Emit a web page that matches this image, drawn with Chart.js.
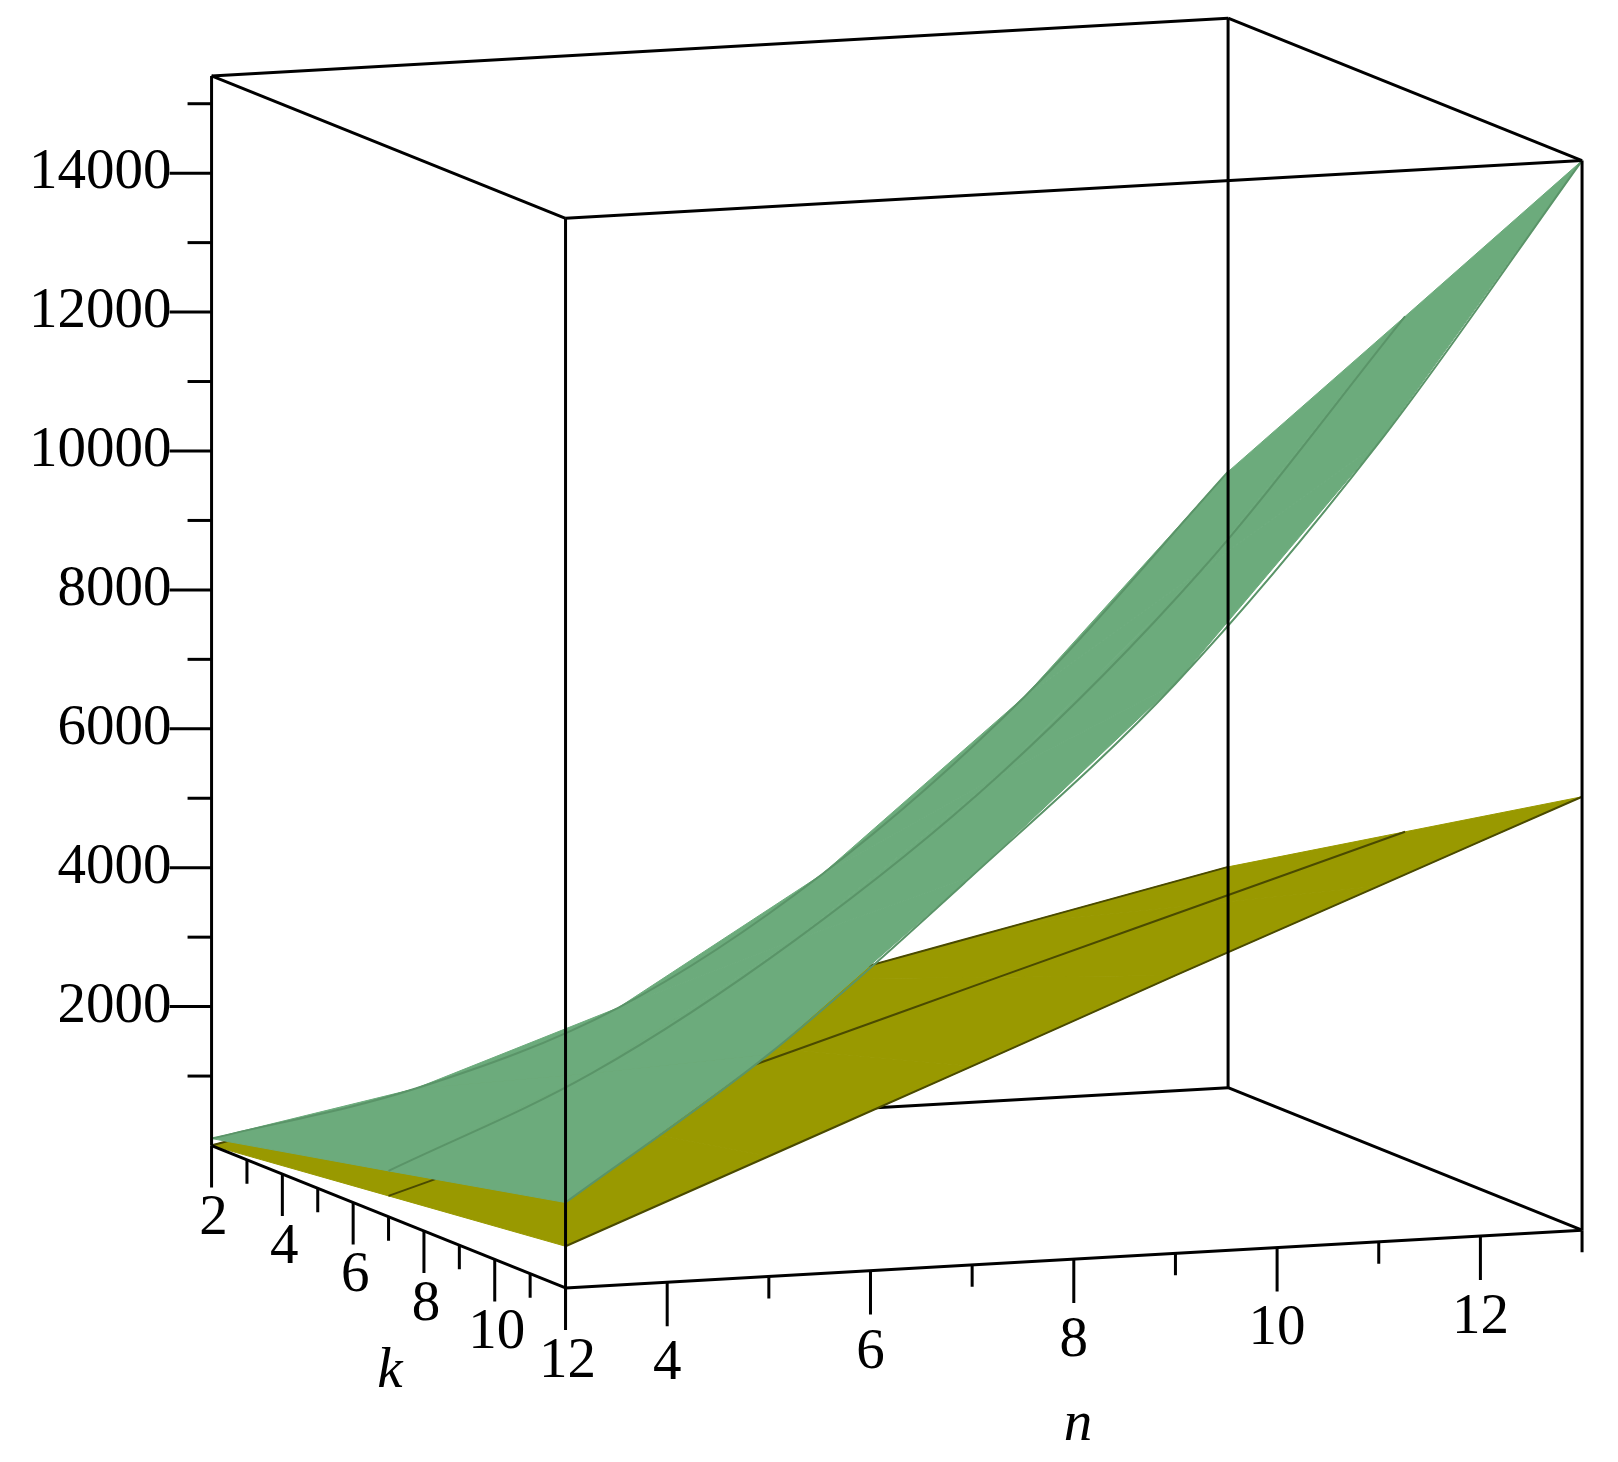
<!DOCTYPE html>
<html>
<head>
<meta charset="utf-8">
<script src="https://cdn.jsdelivr.net/npm/chart.js@4/dist/chart.umd.min.js"></script>
<style>
  body { margin: 0; background: #fff; }
  canvas { display: block; }
</style>
</head>
<body>
<canvas id="plot" width="1618" height="1462"></canvas>
<script>
// grid of the two surfaces
const nValues = [3, 5, 7, 9, 11, 13];
const kValues = [2, 7, 12];
const greenZ = [
  [100, 650, 1650, 3400, 5800, 8870],
  [660, 1900, 3650, 5850, 8650, 12130],
  [1230, 3200, 5600, 8200, 11500, 15400]
];
const yellowZ = [
  [0, 640, 1270, 1900, 2540, 3180],
  [300, 1185, 2065, 2950, 3830, 4710],
  [600, 1730, 2860, 4000, 5120, 6240]
];
const zTicks = [2000, 4000, 6000, 8000, 10000, 12000, 14000];
const nTicks = [4, 6, 8, 10, 12];
const kTicks = [2, 4, 6, 8, 10, 12];
const nRange = [3, 13];
const kRange = [2, 12];
const zRange = [0, 15400];

const S = 1.032;
// simple fixed view: 3d point -> page pixel
function proj(n, k, z) {
  return {
    x: S * (205 + (n - 3) * 98.5 + (k - 2) * 34.3),
    y: S * (1110 - (n - 3) * 5.6 + (k - 2) * 13.8 - z * 0.0673)
  };
}

const datasets = [];
function line(pts, width) {
  datasets.push({ data: pts, showLine: true, borderColor: '#000', borderWidth: width || 3,
    pointRadius: 0, fill: false });
}

// surfaces as filled cells, back rows first
function surface(table, fillCol, edgeCol) {
  for (let r = 0; r < kValues.length - 1; r++) {
    for (let c = 0; c < nValues.length - 1; c++) {
      const pts = [
        proj(nValues[c], kValues[r], table[r][c]),
        proj(nValues[c + 1], kValues[r], table[r][c + 1]),
        proj(nValues[c + 1], kValues[r + 1], table[r + 1][c + 1]),
        proj(nValues[c], kValues[r + 1], table[r + 1][c])
      ];
      pts.push(pts[0]);
      datasets.push({ data: pts, showLine: true, borderColor: fillCol, borderWidth: 1,
        backgroundColor: fillCol, fill: 'shape', pointRadius: 0, tension: 0 });
    }
  }
  // constant-k stripes
  for (let r = 0; r < kValues.length; r++) {
    datasets.push({ data: nValues.map((n, c) => proj(n, kValues[r], table[r][c])),
      showLine: true, borderColor: edgeCol, borderWidth: 2, pointRadius: 0, fill: false,
      cubicInterpolationMode: 'monotone' });
  }
}

const [n0, n1] = nRange, [k0, k1] = kRange, [z0, z1] = zRange;
// hidden back edges first
line([proj(n0, k0, z0), proj(n1, k0, z0)]);
line([proj(n1, k0, z0), proj(n1, k1, z0)]);

surface(yellowZ, '#999900', '#4a4a00');
surface(greenZ, '#6cab7c', '#5a9468');

// remaining box edges
line([proj(n0, k1, z0), proj(n1, k1, z0)]);
line([proj(n0, k0, z0), proj(n0, k1, z0)]);
line([proj(n0, k0, z1), proj(n1, k0, z1)]);
line([proj(n0, k1, z1), proj(n1, k1, z1)]);
line([proj(n0, k0, z1), proj(n0, k1, z1)]);
line([proj(n1, k0, z1), proj(n1, k1, z1)]);
line([proj(n0, k0, z0), proj(n0, k0, z1)]);
line([proj(n0, k1, z0), proj(n0, k1, z1)]);
line([proj(n1, k0, z0), proj(n1, k0, z1)]);
line([proj(n1, k1, z0), proj(n1, k1, z1)]);

// ticks
for (let z = 1000; z <= 15000; z += 1000) {
  const p = proj(n0, k0, z);
  const len = z % 2000 === 0 ? 42 : 24;
  line([p, { x: p.x - len, y: p.y }], 3);
}
for (let n = 3; n <= 13; n++) {
  const p = proj(n, k1, z0);
  const len = n % 2 === 0 ? 44 : 22;
  line([p, { x: p.x, y: p.y + len }], 3);
}
for (let k = 2; k <= 12; k++) {
  const p = proj(n0, k, z0);
  const len = k % 2 === 0 ? 42 : 24;
  line([p, { x: p.x, y: p.y + len }], 3);
}

// Chart.js paints dataset 0 last, so reverse to get painter's order
datasets.reverse();

const labels = {
  id: 'labels',
  afterDatasetsDraw(chart) {
    const ctx = chart.ctx;
    ctx.save();
    ctx.fillStyle = '#000';
    ctx.font = '57px "Liberation Serif", serif';
    ctx.textBaseline = 'middle';
    ctx.textAlign = 'right';
    zTicks.forEach(z => {
      const p = proj(n0, k0, z);
      ctx.fillText(String(z), p.x - 40, p.y);
    });
    ctx.textAlign = 'center';
    nTicks.forEach(n => {
      const p = proj(n, k1, z0);
      ctx.fillText(String(n), p.x, p.y + 82);
    });
    kTicks.forEach(k => {
      const p = proj(n0, k, z0);
      ctx.fillText(String(k), p.x + 2, p.y + 74);
    });
    ctx.font = 'italic 57px "Liberation Serif", serif';
    ctx.fillText('n', 1078, 1425);
    ctx.fillText('k', 390, 1372);
    ctx.restore();
  }
};

new Chart(document.getElementById('plot'), {
  type: 'scatter',
  data: { datasets: datasets },
  options: {
    responsive: false,
    animation: false,
    devicePixelRatio: 1,
    layout: { padding: 0 },
    plugins: { legend: { display: false }, tooltip: { enabled: false } },
    scales: {
      x: { type: 'linear', display: false, min: 0, max: 1618 },
      y: { type: 'linear', display: false, min: 0, max: 1462, reverse: true }
    }
  },
  plugins: [labels]
});
</script>
</body>
</html>
